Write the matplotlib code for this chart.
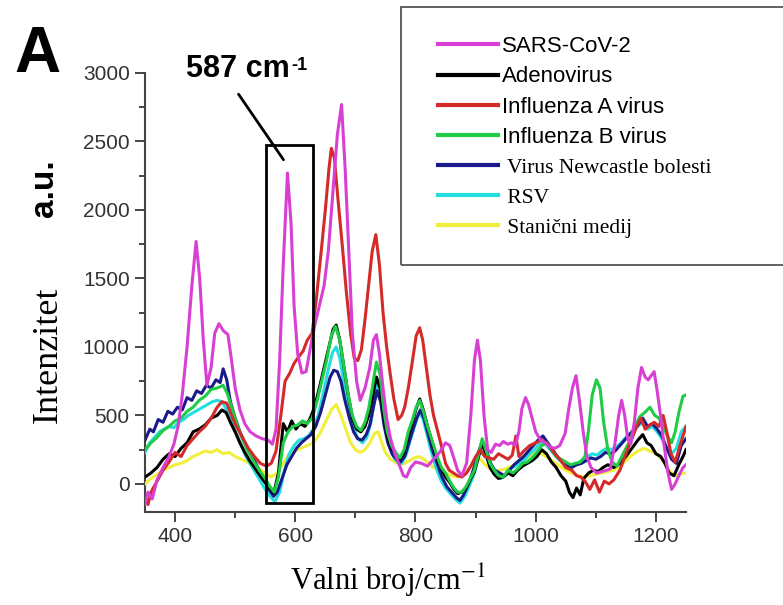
import matplotlib
matplotlib.use("Agg")
import matplotlib.pyplot as plt
from matplotlib.patches import Rectangle

plt.rcParams['mathtext.fontset'] = 'stix'

# Raman spectra (wavenumber in cm-1, intensity in a.u.)
sars_x = [350, 355, 362, 370, 380, 390, 398, 405, 412, 420, 428, 435, 441, 447, 453, 460, 466, 473, 480, 488,
          494, 500, 508, 516, 525, 535, 545, 555, 562, 568, 574, 580, 587, 593, 598, 604, 611, 618, 625, 632,
          640, 648, 655, 662, 670, 677, 683, 689, 695, 702, 708, 716, 724, 730, 735, 740, 746, 752, 758, 765,
          772, 780, 785, 792, 800, 810, 820, 830, 840, 850, 857, 863, 870, 877, 885, 892, 898, 903, 908, 914,
          920, 926, 933, 940, 946, 953, 960, 966, 972, 977, 983, 988, 994, 1000, 1008, 1016, 1024, 1032, 1040,
          1049, 1055, 1061, 1067, 1073, 1079, 1085, 1092, 1101, 1110, 1118, 1124, 1132, 1138, 1143, 1148, 1153,
          1158, 1164, 1170, 1176, 1182, 1187, 1192, 1197, 1202, 1207, 1213, 1220, 1226, 1232, 1238, 1245, 1250]
sars_y = [-150, -60, -110, 30, 120, 200, 290, 420, 650, 1000, 1450, 1770, 1500, 1050, 720, 850, 1100, 1170, 1120, 1090,
          900, 700, 540, 440, 380, 350, 330, 320, 290, 400, 900, 1600, 2270, 1900, 1300, 950, 810, 820, 990, 1150,
          1300, 1450, 1700, 2100, 2550, 2770, 2300, 1700, 1100, 750, 610, 700, 850, 1050, 1090, 950, 700, 480, 340, 230,
          150, 60, 50, 120, 160, 150, 130, 180, 230, 300, 280, 200, 100, 60, 150, 500, 900, 1050, 900, 500,
          250, 230, 290, 280, 310, 290, 300, 280, 380, 550, 630, 580, 480, 380, 320, 300, 270, 260, 280,
          370, 550, 700, 790, 600, 380, 200, 120, 80, 90, 100, 110, 300, 500, 610, 500, 330,
          290, 450, 700, 850, 780, 760, 790, 820, 680, 520, 300, 80, -40, 0, 60, 120, 140]

adeno_x = [350, 360, 370, 380, 390, 400, 410, 420, 430, 440, 450, 460, 470, 478, 485, 492, 500, 508, 516, 524,
           532, 540, 548, 556, 564, 572, 580, 587, 594, 601, 608, 616, 624, 632, 640, 648, 656, 663, 668, 674,
           681, 688, 695, 702, 709, 716, 722, 728, 735, 741, 747, 753, 760, 767, 774, 781, 788, 795, 801, 807,
           813, 820, 828, 836, 843, 850, 857, 864, 870, 877, 884, 891, 898, 905, 911, 917, 924, 931, 938, 946,
           954, 962, 970, 978, 986, 994, 1002, 1010, 1018, 1026, 1034, 1042, 1050, 1056, 1062, 1068, 1074, 1080,
           1088, 1096, 1104, 1112, 1120, 1130, 1140, 1150, 1160, 1170, 1178, 1185, 1192, 1200, 1208, 1215, 1222,
           1230, 1238, 1245, 1250]
adeno_y = [50, 80, 120, 180, 220, 200, 260, 300, 380, 400, 430, 480, 500, 540, 520, 450, 380, 300, 230, 170,
           120, 70, 20, -20, -70, 80, 440, 380, 460, 400, 440, 420, 470, 560, 700, 850, 1000, 1130, 1160, 1050,
           850, 650, 480, 400, 380, 420, 500, 620, 780, 700, 500, 350, 260, 220, 180, 230, 350, 450, 550, 620,
           540, 420, 300, 180, 110, 50, 10, -40, -70, -60, -30, 30, 90, 200, 300, 220, 120, 70, 40, 50,
           80, 60, 100, 130, 150, 170, 200, 250, 220, 160, 120, 60, 20, -60, -100, -30, -80, 40,
           80, 100, 90, 120, 140, 120, 150, 200, 260, 320, 360, 300, 280, 220, 200, 150, 80,
           60, 140, 200, 250]

fluA_x = [350, 355, 360, 370, 380, 390, 400, 410, 420, 430, 440, 450, 460, 470, 478, 486, 494, 502, 512, 522,
          532, 542, 552, 560, 568, 576, 583, 591, 598, 606, 613, 620, 628, 635, 642, 650, 656, 660, 665, 671,
          678, 685, 692, 698, 704, 710, 716, 722, 728, 734, 740, 746, 752, 758, 764, 771, 777, 782, 788, 795,
          801, 807, 812, 818, 824, 830, 836, 843, 850, 856, 863, 870, 877, 885, 892, 900, 908, 915, 922, 930,
          938, 946, 954, 961, 967, 972, 980, 990, 1000, 1010, 1020, 1030, 1040, 1050, 1060, 1068, 1075, 1082,
          1090, 1098, 1106, 1114, 1122, 1130, 1140, 1150, 1160, 1168, 1175, 1182, 1190, 1197, 1205, 1212, 1218,
          1225, 1232, 1240, 1250]
fluA_y = [-100, -150, -60, 20, 100, 160, 230, 200, 280, 330, 380, 420, 480, 560, 600, 590, 500, 420, 340, 260,
          200, 150, 130, 150, 240, 500, 750, 810, 880, 930, 970, 1050, 1100, 1350, 1650, 2000, 2300, 2450, 2380, 2080,
          1750, 1400, 1100, 920, 900, 980, 1200, 1450, 1700, 1820, 1600, 1250, 1000, 800, 620, 470, 500, 560, 700, 900,
          1080, 1140, 1050, 850, 650, 500, 400, 280, 150, 100, 80, 60, 50, 80, 130, 200, 250, 200, 190, 180,
          220, 200, 180, 210, 350, 200, 240, 280, 300, 320, 290, 230, 180, 120, 100, 60, 50, 20,
          -40, 30, -60, 20, 0, 30, 100, 220, 330, 420, 480, 400, 430, 450, 420, 500, 380,
          220, 160, 280, 420]

fluB_x = [350, 360, 370, 380, 390, 400, 410, 420, 430, 440, 450, 460, 470, 480, 487, 494, 502, 510, 520, 530,
          540, 550, 558, 565, 572, 580, 588, 596, 604, 612, 620, 628, 636, 644, 652, 660, 667, 674, 681, 688,
          695, 702, 709, 716, 722, 728, 735, 741, 747, 753, 760, 767, 774, 781, 788, 795, 801, 807, 813, 820,
          828, 836, 843, 850, 857, 864, 870, 877, 884, 891, 898, 905, 911, 917, 924, 931, 938, 946, 954, 962,
          970, 978, 986, 994, 1002, 1010, 1018, 1026, 1034, 1042, 1050, 1058, 1066, 1074, 1082, 1088, 1094, 1101,
          1107, 1113, 1120, 1127, 1135, 1143, 1150, 1157, 1165, 1173, 1181, 1190, 1198, 1205, 1212, 1219, 1226,
          1232, 1238, 1245, 1250]
fluB_y = [250, 300, 340, 390, 420, 460, 480, 530, 560, 610, 640, 690, 700, 720, 660, 560, 450, 350, 250, 170,
          100, 40, -20, -60, 50, 300, 380, 420, 430, 460, 440, 480, 600, 750, 900, 1080, 1150, 1050, 850, 650,
          500, 420, 390, 450, 550, 700, 890, 800, 550, 380, 280, 230, 190, 250, 380, 470, 560, 610, 530, 420,
          310, 200, 120, 80, 20, -30, -60, -60, -20, 40, 100, 220, 330, 250, 150, 100, 60, 50, 100, 80,
          110, 150, 160, 190, 230, 280, 300, 250, 200, 180, 160, 140, 150, 160, 200, 400, 650, 760,
          700, 450, 250, 160, 130, 200, 260, 320, 420, 490, 520, 560, 500, 480, 420, 350, 300,
          380, 520, 640, 650]

ndv_x = [350, 358, 364, 372, 380, 388, 396, 404, 412, 420, 428, 436, 444, 452, 460, 468, 475, 480, 486, 492,
         500, 508, 516, 524, 532, 540, 548, 556, 564, 570, 578, 586, 594, 602, 610, 618, 626, 634, 642, 650,
         658, 664, 670, 676, 682, 690, 697, 704, 711, 718, 724, 730, 736, 742, 748, 754, 761, 768, 775, 782,
         789, 796, 802, 808, 814, 820, 828, 836, 844, 852, 860, 868, 874, 880, 888, 896, 904, 911, 918, 925,
         932, 940, 948, 956, 964, 972, 980, 988, 996, 1004, 1012, 1020, 1028, 1036, 1044, 1052, 1060, 1068,
         1076, 1084, 1092, 1100, 1108, 1116, 1124, 1132, 1140, 1150, 1160, 1170, 1178, 1186, 1194, 1202, 1210,
         1218, 1226, 1234, 1242, 1250]
ndv_y = [320, 400, 380, 470, 450, 530, 510, 560, 540, 630, 610, 680, 660, 720, 700, 760, 740, 840, 760, 600,
         480, 380, 300, 230, 170, 100, 30, -40, -90, -60, 40, 140, 200, 260, 300, 330, 360, 420, 520, 650,
         780, 830, 820, 750, 620, 480, 380, 330, 320, 360, 430, 560, 680, 600, 420, 300, 220, 180, 160, 200,
         300, 400, 480, 540, 480, 380, 250, 150, 50, -20, -60, -100, -120, -80, 0, 100, 220, 310, 250, 150,
         100, 80, 60, 100, 140, 170, 200, 240, 280, 320, 350, 300, 250, 200, 160, 130, 120, 140,
         150, 170, 190, 180, 200, 230, 220, 240, 280, 330, 380, 430, 480, 420, 440, 400, 350,
         260, 180, 150, 280, 330]

rsv_x = [350, 358, 366, 374, 382, 390, 398, 406, 414, 422, 430, 438, 446, 454, 462, 470, 478, 486, 494, 502,
         510, 518, 526, 534, 542, 550, 558, 566, 574, 582, 590, 598, 606, 614, 622, 630, 638, 646, 654, 662,
         668, 674, 680, 688, 696, 704, 712, 719, 726, 732, 737, 743, 749, 756, 763, 770, 777, 785, 792, 799,
         806, 812, 818, 826, 834, 842, 850, 858, 866, 874, 882, 890, 898, 906, 912, 918, 926, 934, 942, 950,
         958, 966, 974, 982, 990, 998, 1006, 1014, 1022, 1030, 1038, 1046, 1054, 1062, 1070, 1078, 1086, 1094,
         1102, 1110, 1118, 1126, 1134, 1142, 1150, 1160, 1170, 1178, 1186, 1194, 1202, 1210, 1218, 1226, 1234,
         1242, 1250]
rsv_y = [230, 300, 340, 380, 400, 420, 410, 450, 470, 500, 520, 540, 560, 580, 600, 610, 600, 540, 450, 360,
         280, 200, 140, 80, 20, -40, -90, -130, -60, 100, 220, 280, 320, 330, 350, 400, 500, 650, 820, 960,
         1000, 920, 760, 560, 420, 330, 300, 340, 450, 620, 760, 620, 420, 290, 200, 160, 150, 220, 330, 430,
         520, 480, 380, 240, 120, 30, -30, -70, -110, -140, -90, -10, 80, 230, 270, 200, 110, 60, 40, 70,
         110, 130, 160, 180, 220, 250, 290, 300, 260, 220, 180, 150, 140, 130, 150, 170, 200, 220,
         210, 240, 260, 250, 270, 300, 340, 380, 420, 450, 400, 420, 380, 330, 250, 220, 260,
         380, 420]

medium_x = [350, 360, 370, 380, 390, 400, 410, 420, 430, 440, 450, 460, 470, 480, 490, 500, 510, 520, 530, 540,
            550, 560, 570, 580, 590, 600, 610, 620, 630, 640, 650, 660, 668, 676, 684, 692, 700, 708, 716, 724,
            732, 738, 744, 750, 758, 766, 774, 782, 790, 798, 806, 814, 822, 830, 840, 850, 860, 870, 880, 890,
            900, 908, 916, 924, 932, 940, 950, 960, 970, 980, 990, 1000, 1010, 1020, 1030, 1040, 1050, 1060, 1070,
            1080, 1090, 1100, 1110, 1120, 1130, 1140, 1150, 1160, 1170, 1180, 1190, 1200, 1210, 1220, 1230, 1240,
            1250]
medium_y = [0, 40, 70, 100, 120, 140, 150, 170, 200, 220, 240, 230, 250, 220, 230, 200, 180, 160, 130, 110,
            80, 50, 80, 150, 220, 240, 260, 280, 300, 360, 450, 540, 580, 500, 400, 300, 250, 230, 250, 300,
            370, 380, 300, 230, 180, 160, 140, 150, 170, 190, 200, 180, 150, 120, 100, 80, 60, 50, 70, 120,
            170, 180, 140, 110, 90, 100, 110, 130, 150, 170, 200, 230, 220, 190, 160, 130, 100, 80, 60,
            50, 60, 70, 80, 90, 100, 130, 170, 210, 240, 260, 240, 220, 180, 110, 60, 70,
            80]

labels = ["SARS-CoV-2", "Adenovirus", "Influenza A virus", "Influenza B virus",
          " Virus Newcastle bolesti", " RSV", " Stanični medij"]
colors = ["#d840d4", "#000000", "#d42a2a", "#1fcc45", "#1a1a8a", "#22dede", "#f2ee3c"]
series = [(sars_x, sars_y), (adeno_x, adeno_y), (fluA_x, fluA_y), (fluB_x, fluB_y),
          (ndv_x, ndv_y), (rsv_x, rsv_y), (medium_x, medium_y)]
zorders = [9, 6, 8, 7, 5, 4, 3]

fig = plt.figure(figsize=(7.83, 6.05), dpi=100)
ax = fig.add_axes([145/783, 1-512/605, 541/783, 439/605])

handles = []
for (xs, ys), lab, col, z in zip(series, labels, colors, zorders):
    ln, = ax.plot(xs, ys, color=col, lw=2.2, label=lab, zorder=z)
    handles.append(ln)

ax.set_xlim(350, 1250)
ax.set_ylim(-205, 3000)
ax.set_xticks([400, 600, 800, 1000, 1200])
ax.set_xticks([500, 700, 900, 1100], minor=True)
ax.set_yticks([0, 500, 1000, 1500, 2000, 2500, 3000])
ax.set_yticks([250, 750, 1250, 1750, 2250, 2750], minor=True)
for s in ['top', 'right']:
    ax.spines[s].set_visible(False)
for s in ['left', 'bottom']:
    ax.spines[s].set_color('#444444')
    ax.spines[s].set_linewidth(1.5)
ax.tick_params(which='major', direction='out', length=7, width=1.4, color='#444444',
               labelsize=15, labelcolor='#333333', pad=4)
ax.tick_params(which='minor', direction='out', length=4, width=1.4, color='#444444')
for t in ax.get_xticklabels() + ax.get_yticklabels():
    t.set_family('Liberation Sans')

# highlighted 587 cm-1 band
ax.add_patch(Rectangle((552, -140), 77, 2615, fill=False, edgecolor='black', lw=2,
                       zorder=10, clip_on=False))
ax.annotate('', xy=(583, 2350), xytext=(503, 2862),
            arrowprops=dict(arrowstyle='-', lw=2, color='black'), annotation_clip=False)
t587 = fig.text(238/783, 1-69/605, '587 cm', ha='center', va='center', fontsize=22,
                fontweight='bold', family='Liberation Sans')
ax.annotate('-1', xy=(1.0, 1.0), xycoords=t587, xytext=(1, -2), textcoords='offset points',
            ha='left', va='top', fontsize=13, fontweight='bold', family='Liberation Sans')

# panel letter and axis titles
fig.text(37/783, 1-55/605, 'A', ha='center', va='center', fontsize=46, fontweight='bold',
         family='Liberation Sans')
fig.text(45/783, 1-188/605, 'a.u.', ha='center', va='center', rotation=90, fontsize=24,
         fontweight='bold', family='Liberation Sans')
fig.text(48/783, 1-355/605, 'Intenzitet', ha='center', va='center', rotation=90, fontsize=26,
         family='Liberation Serif')
fig.text(388/783, 1-580/605, 'Valni broj/cm$^{\\mathrm{-1}}$', ha='center', va='center',
         fontsize=22, family='Liberation Serif')

# legend box runs past the right edge
fig.patches.append(Rectangle((401/783, 1-265/605), 0.6, 258/605, transform=fig.transFigure,
                             fill=False, edgecolor='#555555', lw=1.3))
leg = fig.legend(handles, labels, loc='upper left', bbox_to_anchor=(438/783, 1-36/605),
                 frameon=False, borderpad=0, borderaxespad=0, handlelength=2.7,
                 handletextpad=0.2, labelspacing=0.42, prop={'family': 'Liberation Sans', 'size': 16})
for i, txt in enumerate(leg.get_texts()):
    if i >= 4:
        txt.set_family('Liberation Serif')
        txt.set_fontsize(15.5)
for ln in leg.get_lines():
    ln.set_linewidth(3)

fig.savefig('out.png', dpi=100)
